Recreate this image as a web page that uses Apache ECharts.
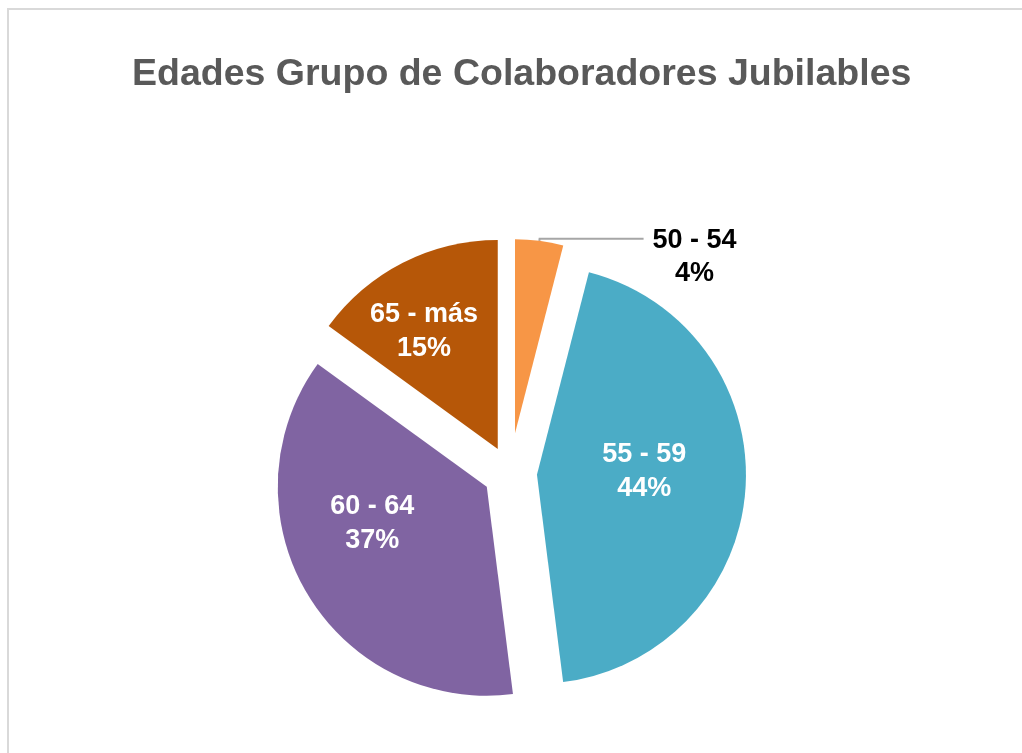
<!DOCTYPE html>
<html>
<head>
<meta charset="utf-8">
<script src="https://cdn.jsdelivr.net/npm/echarts@6/dist/echarts.min.js"></script>
<style>
  html, body { margin: 0; padding: 0; background: #fff; }
  #main { width: 1022px; height: 753px; }
</style>
</head>
<body>
<div id="main"></div>
<script>
var myChart = echarts.init(document.getElementById('main'));

// datos
var categorias = ['50 - 54', '55 - 59', '60 - 64', '65 - más'];
var valores = [4, 44, 37, 15];
var colores = ['#F79646', '#4BACC6', '#8064A2', '#B65708'];

// desplazamiento de etiquetas interiores (estilo Excel)
var ajusteEtiqueta = [[40, 4], [0, -10], [-22, -18], [-25, -22]];

// pie principal: todas menos la primera porción
function datosPrincipal() {
    return categorias.map(function (c, i) {
        return {
            name: c,
            value: valores[i],
            selected: true,
            itemStyle: { color: i === 0 ? 'rgba(0,0,0,0)' : colores[i] },
            label: { show: i !== 0 }
        };
    });
}

// pie secundario: sólo la porción pequeña, más separada
function datosSecundario() {
    return categorias.map(function (c, i) {
        return {
            name: c,
            value: valores[i],
            selected: true,
            itemStyle: { color: i === 0 ? colores[0] : 'rgba(0,0,0,0)' },
            label: { show: i === 0 },
            labelLine: { show: i === 0 }
        };
    });
}

var option = {
    animation: false,
    title: {
        text: 'Edades Grupo de Colaboradores Jubilables',
        left: 127,
        top: 51,
        textStyle: {
            fontFamily: 'Liberation Sans, Arial, sans-serif',
            fontSize: 37.5,
            fontWeight: 'bold',
            color: '#595959'
        }
    },
    graphic: [{
        type: 'rect',
        shape: { x: 8, y: 9, width: 1040, height: 780 },
        style: { fill: 'none', stroke: '#d9d9d9', lineWidth: 2 },
        silent: true
    }],
    series: [
        {
            name: 'Edades',
            type: 'pie',
            center: [510, 473],
            radius: 209,
            startAngle: 90,
            selectedMode: 'multiple',
            selectedOffset: 27,
            emphasis: { disabled: true },
            label: {
                show: true,
                position: 'inside',
                formatter: '{b}\n{d}%',
                color: '#fff',
                fontFamily: 'Liberation Sans, Arial, sans-serif',
                fontSize: 27,
                fontWeight: 'bold',
                lineHeight: 34
            },
            labelLine: { show: false },
            labelLayout: function (p) {
                var a = ajusteEtiqueta[p.dataIndex];
                return { dx: a[0], dy: a[1] };
            },
            data: datosPrincipal()
        },
        {
            name: 'Edades 50',
            type: 'pie',
            center: [510, 473],
            radius: 194,
            startAngle: 90,
            selectedMode: 'multiple',
            selectedOffset: 40,
            emphasis: { disabled: true },
            label: {
                show: true,
                position: 'outside',
                formatter: '{b}\n{d}%',
                color: '#000',
                fontFamily: 'Liberation Sans, Arial, sans-serif',
                fontSize: 27,
                fontWeight: 'bold',
                lineHeight: 33,
                align: 'center'
            },
            labelLine: {
                length: 2,
                length2: 104,
                lineStyle: { color: '#a6a6a6', width: 2 }
            },
            labelLayout: function (p) {
                if (p.dataIndex !== 0) return {};
                return { dx: 46, dy: 18, align: 'center' };
            },
            data: datosSecundario()
        }
    ]
};

myChart.setOption(option);
</script>
</body>
</html>
